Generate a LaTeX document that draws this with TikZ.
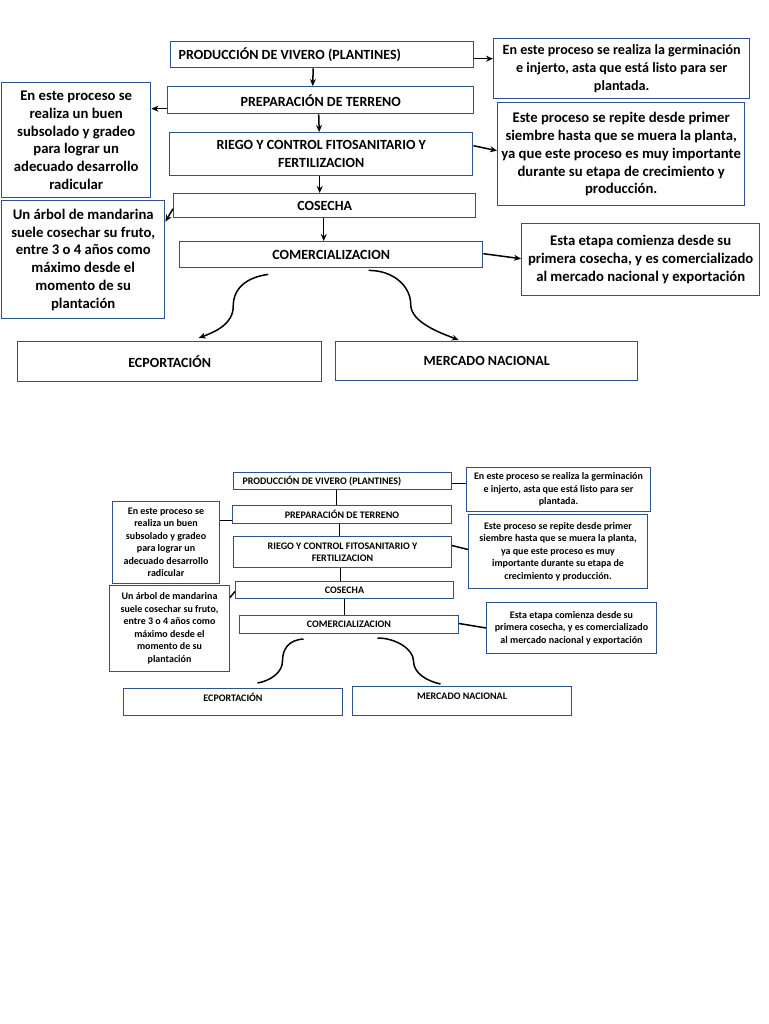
\documentclass[tikz,border=0pt]{standalone}
\usepackage{fontspec}
\setmainfont{Carlito}
\usetikzlibrary{arrows.meta}
\definecolor{boxblue}{RGB}{47,82,143}

\begin{document}
\begin{tikzpicture}[x=1pt, y=-1pt,
  stage/.style={draw=boxblue, line width=1.4pt, anchor=north west, align=center,
    inner sep=0pt, font=\bfseries\fontsize{14}{17.6}\selectfont},
  note/.style={stage, font=\bfseries\fontsize{14.7}{17.8}\selectfont},
  sstage/.style={draw=boxblue, line width=1pt, anchor=north west, align=center,
    inner sep=0pt, font=\bfseries\fontsize{10}{12.5}\selectfont},
  snote/.style={sstage},
  link/.style={->, line width=1.5pt},
  slink/.style={line width=1.5pt},
  >={Stealth[length=7pt,width=6pt]}
]
  \fill[white] (0,0) rectangle (768,1024);
  \useasboundingbox (0,0) rectangle (768,1024);

  \node[stage, minimum width=303pt, minimum height=26pt, text width=287pt, align=flush left]
    (prod) at (170,41) {PRODUCCIÓN DE VIVERO (PLANTINES)};
  \node[stage, minimum width=306pt, minimum height=27pt] (prep) at (167,86) {PREPARACIÓN DE TERRENO};
  \node[stage, minimum width=303pt, minimum height=43pt] (riego) at (169,132)
    {RIEGO Y CONTROL FITOSANITARIO Y\\FERTILIZACION};
  \node[stage, minimum width=302pt, minimum height=24pt] (cosecha) at (173,193) {COSECHA};
  \node[stage, minimum width=303pt, minimum height=26pt] (comerc) at (179,241) {COMERCIALIZACION};
  \node[stage, minimum width=304pt, minimum height=40pt] (expo) at (17,341) {ECPORTACIÓN};
  \node[stage, minimum width=302pt, minimum height=39pt] (mercado) at (335,341) {MERCADO NACIONAL};

  \node[note, minimum width=256pt, minimum height=60pt, font=\bfseries\fontsize{14.1}{17.8}\selectfont]
    (germ) at (493,38)
    {En este proceso se realiza la germinación\\e injerto, asta que está listo para ser\\plantada.};
  \node[note, minimum width=149pt, minimum height=115pt] (suelo) at (1,82)
    {En este proceso se\\realiza un buen\\subsolado y gradeo\\para lograr un\\adecuado desarrollo\\radicular};
  \node[note, minimum width=247pt, minimum height=103pt] (riegonota) at (497,102)
    {Este proceso se repite desde primer\\siembre hasta que se muera la planta,\\ya que este proceso es muy importante\\durante su etapa de crecimiento y\\producción.};
  \node[note, minimum width=163pt, minimum height=118pt] (arbol) at (1,200)
    {Un árbol de mandarina\\suele cosechar su fruto,\\entre 3 o 4 años como\\máximo desde el\\momento de su\\plantación};
  \node[note, minimum width=238pt, minimum height=72pt] (etapa) at (521,223)
    {Esta etapa comienza desde su\\primera cosecha, y es comercializado\\al mercado nacional y exportación};

  \draw[link] ([xshift=-9pt]prod.south) -- ([xshift=-8pt]prep.north);
  \draw[link] ([xshift=-2pt]prep.south) -- ([xshift=-2pt]riego.north);
  \draw[link] ([xshift=-1.5pt]riego.south) -- ([xshift=-5pt]cosecha.north);
  \draw[link] ([xshift=-1pt]cosecha.south) -- ([xshift=-7.5pt]comerc.north);
  \draw[link] ([yshift=-4pt]prod.east) -- ([yshift=10pt]germ.west);
  \draw[link] ([yshift=-8.5pt]prep.west) -- ([yshift=31.5pt]suelo.east);
  \draw[link] ([yshift=8.5pt]riego.east) -- ([yshift=3.5pt]riegonota.west);
  \draw[link] ([yshift=-3pt]cosecha.west) -- ([yshift=38pt]arbol.east);
  \draw[link] ([yshift=1pt]comerc.east) -- ([yshift=1pt]etapa.west);
  \draw[link] ([xshift=-63pt,yshift=-6pt]comerc.south) .. controls +(-22,3) and +(0,-18) .. +(-35,32)
    .. controls +(0,18) and +(16,-6) .. ([xshift=29pt,yshift=3pt]expo.north);
  \draw[link] ([xshift=37.5pt,yshift=-2pt]comerc.south) .. controls +(25,0) and +(0,-18) .. +(42,34)
    .. controls +(0,18) and +(-18,-7) .. ([xshift=-28pt,yshift=1pt]mercado.north);

  \node[sstage, minimum width=218pt, minimum height=17pt, text width=200pt, align=flush left]
    (bprod) at (233,472) {PRODUCCIÓN DE VIVERO (PLANTINES)};
  \node[sstage, minimum width=219pt, minimum height=18pt] (bprep) at (232,505) {PREPARACIÓN DE TERRENO};
  \node[sstage, minimum width=218pt, minimum height=31pt] (briego) at (233,536)
    {RIEGO Y CONTROL FITOSANITARIO Y\\FERTILIZACION};
  \node[sstage, minimum width=218pt, minimum height=17pt] (bcosecha) at (235,581) {COSECHA};
  \node[sstage, minimum width=219pt, minimum height=18pt] (bcomerc) at (239,615) {COMERCIALIZACION};
  \node[sstage, minimum width=219pt, minimum height=27pt] (bexpo) at (123,688)
    {\raisebox{1pt}[0pt][0pt]{ECPORTACIÓN}};
  \node[sstage, minimum width=219pt, minimum height=29pt] (bmercado) at (352,686)
    {\raisebox{2pt}[0pt][0pt]{MERCADO NACIONAL}};

  \node[snote, minimum width=184pt, minimum height=44pt] (bgerm) at (466,467)
    {En este proceso se realiza la germinación\\e injerto, asta que está listo para ser\\plantada.};
  \node[snote, minimum width=107pt, minimum height=82pt] (bsuelo) at (112,501)
    {En este proceso se\\realiza un buen\\subsolado y gradeo\\para lograr un\\adecuado desarrollo\\radicular};
  \node[snote, minimum width=179pt, minimum height=74pt] (briegonota) at (468,514)
    {Este proceso se repite desde primer\\siembre hasta que se muera la planta,\\ya que este proceso es muy\\importante durante su etapa de\\crecimiento y producción.};
  \node[snote, minimum width=120pt, minimum height=86pt] (barbol) at (109,585)
    {Un árbol de mandarina\\suele cosechar su fruto,\\entre 3 o 4 años como\\máximo desde el\\momento de su\\plantación};
  \node[snote, minimum width=170pt, minimum height=51pt] (betapa) at (486,602)
    {Esta etapa comienza desde su\\primera cosecha, y es comercializado\\al mercado nacional y exportación};

  \draw[slink] ([xshift=-6pt]bprod.south) -- ([xshift=-5.5pt]bprep.north);
  \draw[slink] ([xshift=-2.5pt]bprep.south) -- ([xshift=-3pt]briego.north);
  \draw[slink] ([xshift=-2pt]briego.south) -- ([xshift=-4pt]bcosecha.north);
  \draw[slink] (bcosecha.south) -- ([xshift=-4.5pt]bcomerc.north);
  \draw[slink] ([yshift=-2.5pt]bprod.east) -- ([yshift=6pt]bgerm.west);
  \draw[slink] ([yshift=-6pt]bprep.west) -- ([yshift=22pt]bsuelo.east);
  \draw[slink] ([yshift=6.5pt]briego.east) -- ([yshift=2pt]briegonota.west);
  \draw[slink] ([yshift=-1.5pt]bcosecha.west) -- ([yshift=31pt]barbol.east);
  \draw[slink] ([yshift=1pt]bcomerc.east) -- (betapa.west);
  \draw[slink] ([xshift=-45.5pt,yshift=-5pt]bcomerc.south) .. controls +(-15,1) and +(0,-12) .. +(-21,22)
    .. controls +(0,12) and +(12,-2) .. ([xshift=24.5pt,yshift=5pt]bexpo.north);
  \draw[slink] ([xshift=28.5pt,yshift=-4pt]bcomerc.south) .. controls +(18,0) and +(0,-12) .. +(36,23)
    .. controls +(0,12) and +(-14,-3) .. ([xshift=-21.5pt,yshift=2pt]bmercado.north);
\end{tikzpicture}
\end{document}
